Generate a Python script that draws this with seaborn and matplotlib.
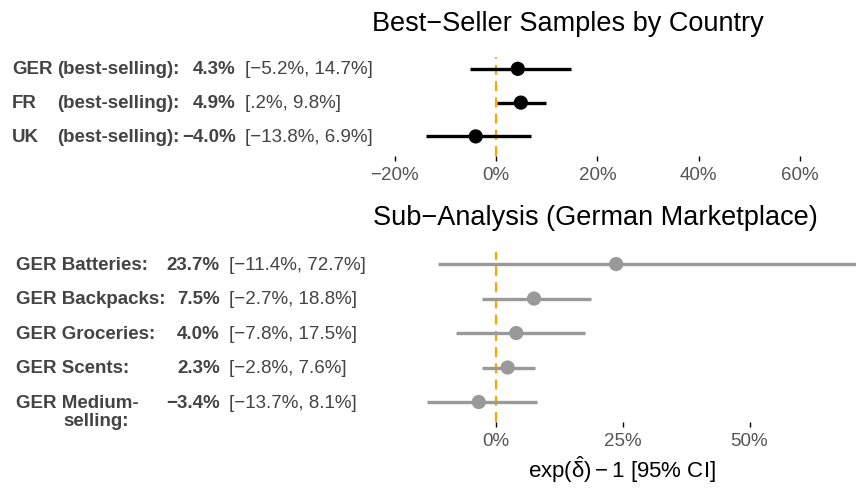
import matplotlib
matplotlib.use('Agg')
import matplotlib.pyplot as plt
import matplotlib.transforms as mtransforms
import seaborn as sns
import pandas as pd

sns.set_theme(style='white')
plt.rcParams['font.family'] = ['Liberation Sans', 'DejaVu Sans']
plt.rcParams['mathtext.fontset'] = 'custom'
plt.rcParams['mathtext.rm'] = 'Liberation Sans'
plt.rcParams['mathtext.it'] = 'Liberation Sans:italic'

# 数据
top_countries = ['GER', 'FR', 'UK']
top_est = [4.3, 4.9, -4.0]
top_lo = [-5.2, 0.2, -13.8]
top_hi = [14.7, 9.8, 6.9]
top_ticks = [-20, 0, 20, 40, 60]

sub_labels = ['GER Batteries:', 'GER Backpacks:', 'GER Groceries:', 'GER Scents:', 'GER Medium-']
sub_est = [23.7, 7.5, 4.0, 2.3, -3.4]
sub_lo = [-11.4, -2.7, -7.8, -2.8, -13.7]
sub_hi = [72.7, 18.8, 17.5, 7.6, 8.1]
sub_ticks = [0, 25, 50]

TXT = '#444444'
TICK = '#555555'
ORANGE = '#FFA500'
W, H = 856, 489
FS = 13.5


def fmt(v):
    s = f'{abs(v):.1f}'
    if s.startswith('0.'):
        s = s[1:]
    return ('\u2212' if v < 0 else '') + s + '%'


def pct(v):
    return ('\u2212' if v < 0 else '') + f'{abs(v):g}%'


def setup(ax, n, ticks):
    ax.set_xlim((370 - 496) / 5.07, (W - 496) / 5.07)
    ax.set_ylim(n + 0.58, 0.65)
    ax.axvline(0, color=ORANGE, lw=1.6, ls=(0, (4.5, 2.8)), zorder=1)
    ax.set_xticks(ticks)
    ax.set_xticklabels([pct(t) for t in ticks], color=TICK, fontsize=13.5)
    ax.set_yticks([])
    ax.tick_params(axis='x', bottom=True, length=3.5, width=1, color='black', pad=3.5)
    for sp in ax.spines.values():
        sp.set_visible(False)
    ax.set_xlabel('')
    ax.set_ylabel('')
    ax.patch.set_alpha(0)


fig = plt.figure(figsize=(W / 100, H / 100), dpi=100)
ax1 = fig.add_axes([370 / W, 1 - 157 / H, (W - 370) / W, 99 / H])
ax2 = fig.add_axes([370 / W, 1 - 423 / H, (W - 370) / W, 170 / H])

# 上图：各国畅销样本
top = pd.DataFrame({'row': range(1, 4), 'est': top_est, 'lo': top_lo, 'hi': top_hi})
ax1.hlines(top['row'], top['lo'], top['hi'], color='black', lw=2.4, zorder=2)
sns.scatterplot(data=top, x='est', y='row', ax=ax1, color='black', s=105,
                edgecolor='none', zorder=3, legend=False)
setup(ax1, 3, top_ticks)

tr1 = mtransforms.blended_transform_factory(fig.transFigure, ax1.transData)
for i, c in enumerate(top_countries):
    r = i + 1
    ax1.text(12 / W, r, c, transform=tr1, ha='left', va='center', fontsize=FS,
             fontweight='bold', color=TXT)
    ax1.text(57 / W, r, '(best-selling):', transform=tr1, ha='left', va='center',
             fontsize=FS, fontweight='bold', color=TXT)
    ax1.text(236 / W, r, fmt(top_est[i]), transform=tr1, ha='right', va='center',
             fontsize=FS, fontweight='bold', color=TXT)
    ax1.text(245 / W, r, f'[{fmt(top_lo[i])}, {fmt(top_hi[i])}]', transform=tr1,
             ha='left', va='center', fontsize=FS, color=TXT)

# 下图：德国市场子分析
sub = pd.DataFrame({'row': range(1, 6), 'est': sub_est, 'lo': sub_lo, 'hi': sub_hi})
ax2.hlines(sub['row'], sub['lo'], sub['hi'], color='#999999', lw=2.4, zorder=2)
sns.scatterplot(data=sub, x='est', y='row', ax=ax2, color='#999999', s=105,
                edgecolor='none', zorder=3, legend=False)
setup(ax2, 5, sub_ticks)
ax2.set_xlabel(r'$\mathrm{exp}(\hat{\mathrm{\delta}})-1$ [95% CI]', fontsize=16,
               color='black')
ax2.xaxis.set_label_coords((622 - 370) / (W - 370), -0.185)

tr2 = mtransforms.blended_transform_factory(fig.transFigure, ax2.transData)
for i, lab in enumerate(sub_labels):
    r = i + 1
    ax2.text(16 / W, r, lab, transform=tr2, ha='left', va='center', fontsize=FS,
             fontweight='bold', color=TXT)
    ax2.text(220 / W, r, fmt(sub_est[i]), transform=tr2, ha='right', va='center',
             fontsize=FS, fontweight='bold', color=TXT)
    ax2.text(229 / W, r, f'[{fmt(sub_lo[i])}, {fmt(sub_hi[i])}]', transform=tr2,
             ha='left', va='center', fontsize=FS, color=TXT)
ax2.annotate('selling:', xy=(63 / W, 5), xycoords=tr2, xytext=(0, -13.5),
             textcoords='offset points', ha='left', va='center', fontsize=FS,
             fontweight='bold', color=TXT)

fig.text(372 / W, 1 - 24 / H, 'Best\u2212Seller Samples by Country', fontsize=19.5,
         ha='left', va='center', color='black')
fig.text(373 / W, 1 - 218 / H, 'Sub\u2212Analysis (German Marketplace)', fontsize=19.5,
         ha='left', va='center', color='black')

fig.savefig('out.png', dpi=100)
